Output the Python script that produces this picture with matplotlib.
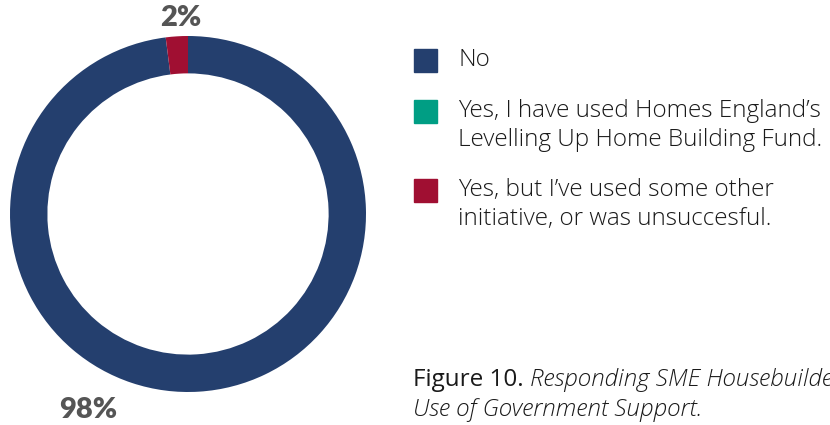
import matplotlib
matplotlib.use('Agg')
import matplotlib.pyplot as plt
from matplotlib.patches import Rectangle

# data
labels=['No',
        'Yes, I have used Homes England\u2019s\nLevelling Up Home Building Fund.',
        'Yes, but I\u2019ve used some other\ninitiative, or was unsuccesful.']
values=[98,0,2]
colors=['#243f6e','#009e84','#a00f32']
pct_text=['98%','','2%']

W,H=830,425
fig=plt.figure(figsize=(W/100,H/100),dpi=100)
fnt='Open Sans'
fs=17.5
tcol='#1a1a1a'

# donut
cx,cy,r=188,214,178
ax=fig.add_axes([(cx-r)/W,(H-cy-r)/H,2*r/W,2*r/H])
ax.pie(values,colors=colors,startangle=90,counterclock=False,radius=1,
       wedgeprops=dict(width=0.21,linewidth=0))
ax.set_xlim(-1,1)
ax.set_ylim(-1,1)
ax.set_aspect('equal')
ax.axis('off')

lab_pos={'98%':(88,410),'2%':(181,18)}
for t in pct_text:
    if t:
        px,py=lab_pos[t]
        fig.text(px/W,1-py/H,t,ha='center',va='center',fontsize=21,
                 fontweight='heavy',family='Lato',color='#555555')

# legend drawn by hand
sq=23
legend_y=[60,111,190]
for lab,col,y in zip(labels,colors,legend_y):
    fig.patches.append(Rectangle((414/W,1-(y+sq/2)/H),sq/W,sq/H,
                                 transform=fig.transFigure,color=col))
    lines=lab.split('\n')
    for k,line in enumerate(lines):
        fig.text(458/W,1-(y+29*k)/H,line,ha='left',va='center',
                 fontsize=fs,family=fnt,fontweight='light',color=tcol)

# caption
t1=fig.text(413/W,1-380/H,'Figure 10. ',ha='left',va='center',fontsize=fs,
            family=fnt,color=tcol)
fig.canvas.draw()
bb=t1.get_window_extent()
fig.text(bb.x1/W,1-380/H,'Responding SME Housebuilders\u2019',ha='left',va='center',
         fontsize=fs,family=fnt,fontweight='light',style='italic',color=tcol)
fig.text(413/W,1-410/H,'Use of Government Support.',ha='left',va='center',
         fontsize=fs,family=fnt,fontweight='light',style='italic',color=tcol)

fig.savefig('out.png',dpi=100)
